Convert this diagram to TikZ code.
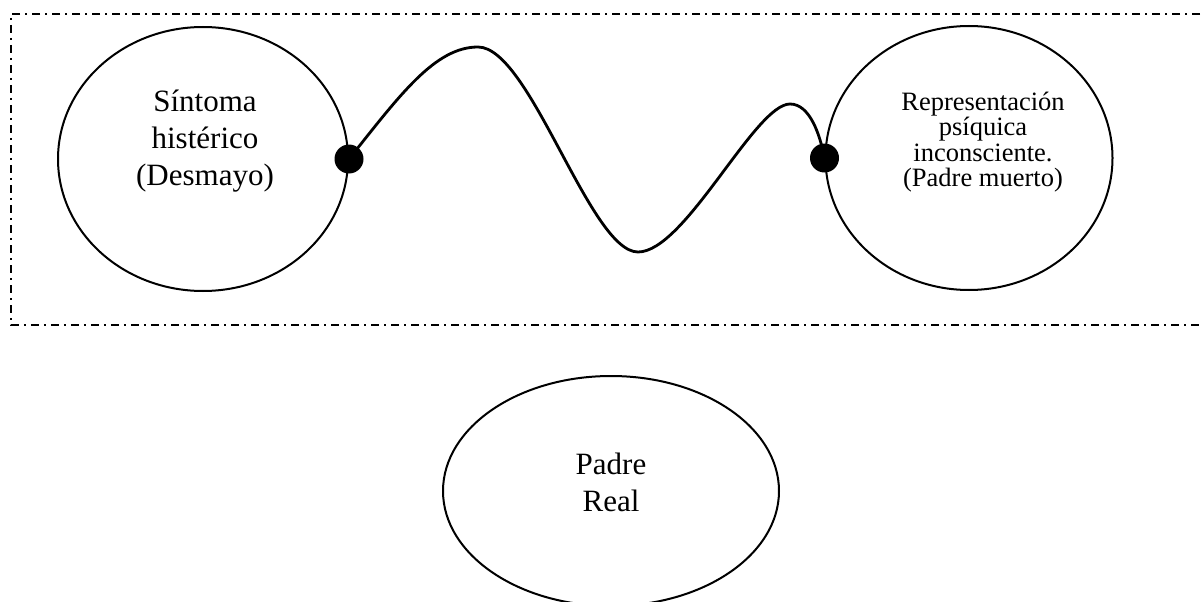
\documentclass[tikz,border=0pt]{standalone}
\usepackage{fontspec}
\setmainfont{Liberation Serif}
\usetikzlibrary{shapes.geometric}
\tikzset{
  oval/.style={draw, ellipse, line width=2pt, inner sep=0pt},
  bigtext/.style={align=center, font=\fontsize{31}{37}\selectfont, inner sep=0pt},
  smalltext/.style={align=center, font=\fontsize{26.5}{25.5}\selectfont, inner sep=0pt},
  joint/.style={circle, fill=black, inner sep=0pt, minimum size=29pt},
  frame/.style={line width=2pt, dash pattern=on 8pt off 5pt on 2pt off 5pt},
  wire/.style={line width=2.8pt}
}
\begin{document}
\begin{tikzpicture}[x=1pt, y=-1pt]
\clip (0,0) rectangle (1203,602);
\fill[white] (0,0) rectangle (1203,602);
\draw[frame] (1220,14) -- (11,14) -- (11,325) -- (1220,325);
\node[oval, minimum width=290pt, minimum height=264pt] (left) at (203,159) {};
\node[oval, minimum width=287pt, minimum height=264pt] (right) at (969,158) {};
\node[oval, minimum width=336pt, minimum height=230pt] (real) at (611,491) {};
\node[bigtext] (lt) at (205,141) {Síntoma\\histérico\\(Desmayo)};
\node[smalltext] (rt) at (983,142) {Representación\\psíquica\\inconsciente.\\(Padre muerto)};
\node[bigtext] (pr) at (611,482) {Padre\\Real};
\node[joint] (a) at (left.east) {};
\node[joint] (b) at (right.west) {};
\draw[wire] (a.center) .. controls (400,95) and (435,47) .. (478,47)
  .. controls (530,47) and (590,252) .. (638,252)
  .. controls (685,252) and (755,104) .. (790,104)
  .. controls (810,104) and (820,135) .. (b.center);
\end{tikzpicture}
\end{document}
